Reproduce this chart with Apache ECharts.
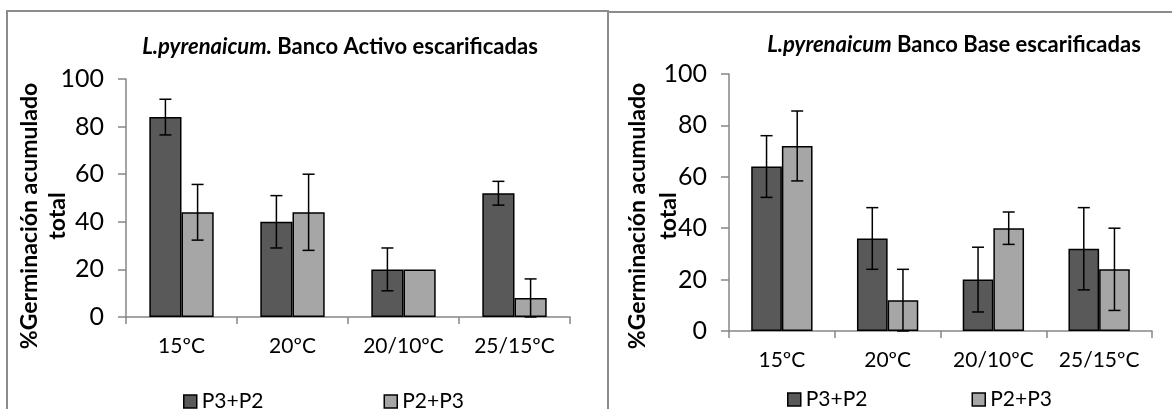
<!DOCTYPE html>
<html>
<head>
<meta charset="utf-8">
<script src="https://cdn.jsdelivr.net/npm/echarts@6/dist/echarts.min.js"></script>
<style>
html,body{margin:0;padding:0;background:#fff;}
#c{width:1172px;height:409px;}
</style>
</head>
<body>
<div id="c"></div>
<script>
const categories = ['15ºC', '20ºC', '20/10ºC', '25/15ºC'];
const seriesNames = ['P3+P2', 'P2+P3'];
// Banco Activo (left)
const activoP3P2 = [84, 40, 20, 52];
const activoP2P3 = [44, 44, 20, 8];
const activoErrP3P2 = [7.5, 11, 9, 5];
const activoErrP2P3 = [11.7, 16, 0, 8];
// Banco Base (right)
const baseP3P2 = [64, 36, 20, 32];
const baseP2P3 = [72, 12, 40, 24];
const baseErrP3P2 = [12, 12, 12.6, 16];
const baseErrP2P3 = [13.6, 12, 6.3, 16];
const yMin = 0, yMax = 100, yStep = 20;

const FONT = 'Lato';
const GAP = 0.42;
const DARK = '#595959', LIGHT = '#A6A6A6', AXIS = '#868686';

function errRender(side) {
  return function (params, api) {
    const ci = api.value(0), v = api.value(1), e = api.value(2);
    if (!e) return null;
    const band = api.size([1, 0])[0];
    const bw = band * (1 - GAP) / 2;
    const c = api.coord([ci, v]);
    const x = c[0] + (side === 0 ? -bw / 2 : bw / 2);
    const top = api.coord([ci, v + e])[1];
    const bot = api.coord([ci, Math.max(0, v - e)])[1];
    const cap = 6;
    const st = { stroke: '#000', lineWidth: 1.5 };
    return {
      type: 'group',
      children: [
        { type: 'line', shape: { x1: x, y1: top, x2: x, y2: bot }, style: st },
        { type: 'line', shape: { x1: x - cap, y1: top, x2: x + cap, y2: top }, style: st },
        { type: 'line', shape: { x1: x - cap, y1: bot, x2: x + cap, y2: bot }, style: st }
      ]
    };
  };
}
function errData(vals, errs) { return vals.map((v, i) => [i, v, errs[i]]); }

function xAxis(gi) {
  return {
    type: 'category', gridIndex: gi, data: categories,
    axisLine: { lineStyle: { color: AXIS, width: 1.5 } },
    axisTick: { show: true, length: 7, lineStyle: { color: AXIS, width: 1.5 } },
    axisLabel: { color: '#000', fontFamily: FONT, fontSize: 21, margin: 19 }
  };
}
function yAxis(gi) {
  return {
    type: 'value', gridIndex: gi, min: yMin, max: yMax, interval: yStep,
    axisLine: { show: true, lineStyle: { color: AXIS, width: 1.5 } },
    axisTick: { show: true, length: 8, lineStyle: { color: AXIS, width: 1.5 } },
    splitLine: { show: false },
    axisLabel: { color: '#000', fontFamily: FONT, fontSize: 25, margin: 22 }
  };
}
function bar(name, gi, data, color) {
  return {
    name: name, type: 'bar', xAxisIndex: gi, yAxisIndex: gi, data: data,
    barGap: '0%', barCategoryGap: (GAP * 100) + '%',
    itemStyle: { color: color, borderColor: '#000', borderWidth: 1.5 },
    emphasis: { disabled: true }, animation: false
  };
}
function errSeries(gi, side, vals, errs) {
  return {
    type: 'custom', xAxisIndex: gi, yAxisIndex: gi,
    renderItem: errRender(side), data: errData(vals, errs), z: 5,
    silent: true, animation: false
  };
}
function legend(left, top, gap) {
  return {
    data: seriesNames, left: left, top: top, itemGap: gap,
    itemWidth: 13, itemHeight: 13, icon: 'rect',
    itemStyle: { borderColor: '#000', borderWidth: 1.5 },
    textStyle: { color: '#000', fontFamily: FONT, fontSize: 21 },
    selectedMode: false
  };
}

const chart = echarts.init(document.getElementById('c'), null, { renderer: 'canvas' });
chart.setOption({
  animation: false,
  backgroundColor: '#fff',
  grid: [
    { left: 126, top: 79, width: 444, height: 238 },
    { left: 729, top: 74, width: 423, height: 257 }
  ],
  xAxis: [xAxis(0), xAxis(1)],
  yAxis: [yAxis(0), yAxis(1)],
  legend: [legend(178, 386, 120), legend(782, 384, 104)],
  series: [
    bar('P3+P2', 0, activoP3P2, DARK),
    bar('P2+P3', 0, activoP2P3, LIGHT),
    bar('P3+P2', 1, baseP3P2, DARK),
    bar('P2+P3', 1, baseP2P3, LIGHT),
    errSeries(0, 0, activoP3P2, activoErrP3P2),
    errSeries(0, 1, activoP2P3, activoErrP2P3),
    errSeries(1, 0, baseP3P2, baseErrP3P2),
    errSeries(1, 1, baseP2P3, baseErrP2P3)
  ],
  graphic: [
    { type: 'rect', shape: { x: 7, y: 11, width: 601, height: 430 },
      style: { fill: 'none', stroke: '#8c8c8c', lineWidth: 2 }, z: -1, silent: true },
    { type: 'rect', shape: { x: 608, y: 12, width: 600, height: 430 },
      style: { fill: 'none', stroke: '#8c8c8c', lineWidth: 2 }, z: -1, silent: true },
    { type: 'text', x: 340, y: 47, silent: true,
      style: { text: '{i|L.pyrenaicum.} Banco Activo escarificadas', align: 'center', verticalAlign: 'middle',
        fontFamily: FONT, fontSize: 22, fontWeight: 'bold', fill: '#000',
        rich: { i: { fontStyle: 'italic', fontWeight: 'bold', fontFamily: FONT, fontSize: 22, fill: '#000' } } } },
    { type: 'text', x: 954, y: 45, silent: true,
      style: { text: '{i|L.pyrenaicum} Banco Base escarificadas', align: 'center', verticalAlign: 'middle',
        fontFamily: FONT, fontSize: 22, fontWeight: 'bold', fill: '#000',
        rich: { i: { fontStyle: 'italic', fontWeight: 'bold', fontFamily: FONT, fontSize: 22, fill: '#000' } } } },
    { type: 'text', x: 44, y: 216, rotation: Math.PI / 2, silent: true,
      style: { text: '%Germinación acumulado\ntotal', align: 'center', verticalAlign: 'middle',
        fontFamily: FONT, fontSize: 23, fontWeight: 'bold', lineHeight: 28, fill: '#000' } },
    { type: 'text', x: 653, y: 216, rotation: Math.PI / 2, silent: true,
      style: { text: '%Germinación acumulado\ntotal', align: 'center', verticalAlign: 'middle',
        fontFamily: FONT, fontSize: 23, fontWeight: 'bold', lineHeight: 31, fill: '#000' } }
  ]
});
</script>
</body>
</html>
